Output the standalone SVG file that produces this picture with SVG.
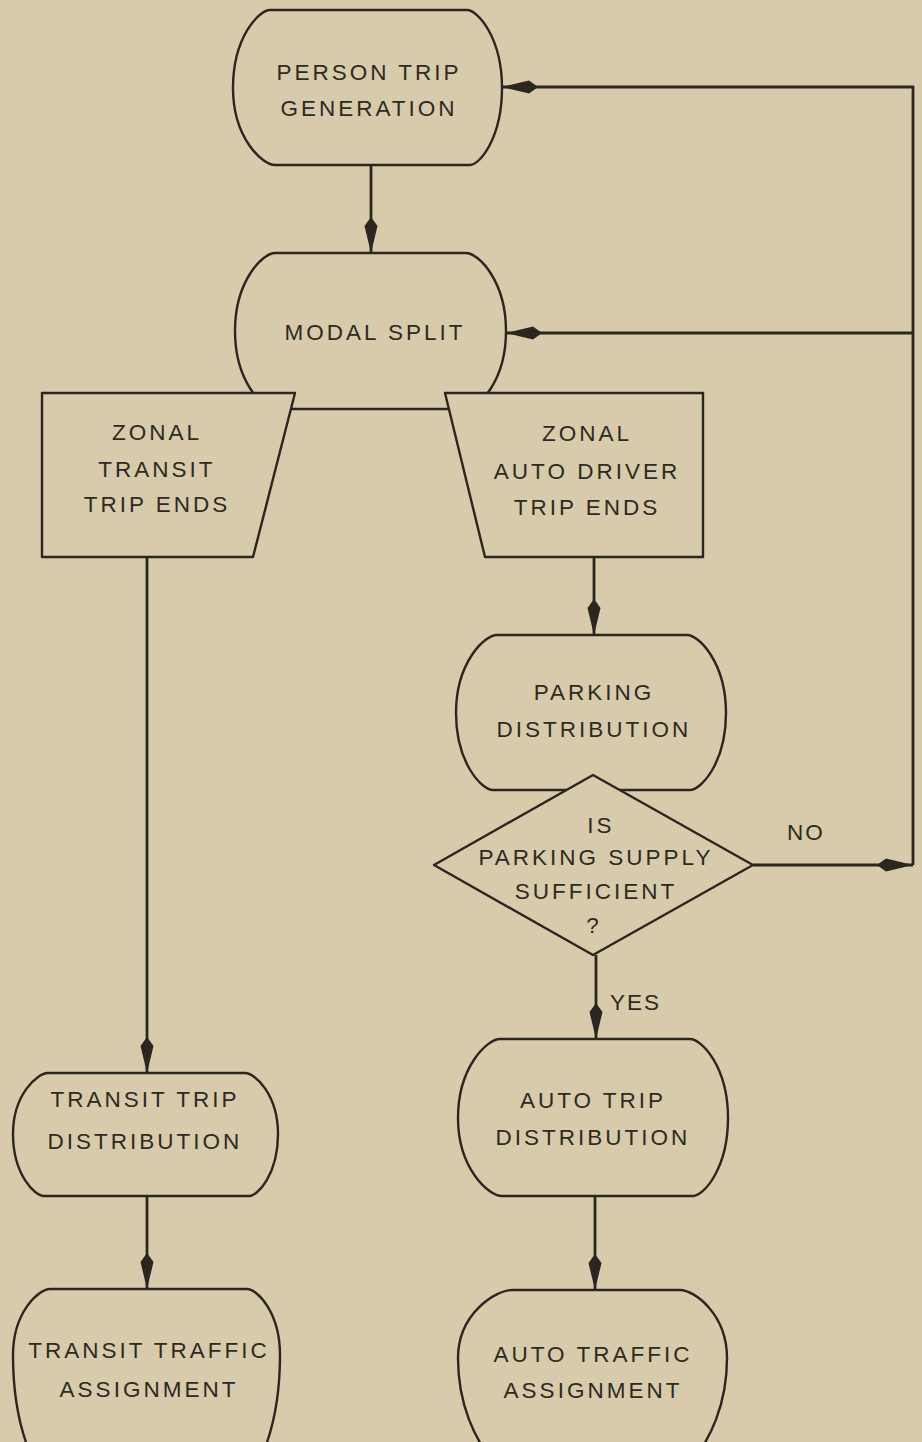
<svg xmlns="http://www.w3.org/2000/svg" width="922" height="1442" viewBox="0 0 922 1442">
<style>
.bg{fill:#d7cbab}
.shape{fill:#d7cbab;stroke:#2b2620;stroke-width:2.4;stroke-linejoin:round}
.conn{fill:none;stroke:#2b2620;stroke-width:2.8}
.t{font-family:"Liberation Sans",Arial,sans-serif;font-size:22.5px;fill:#2e2a22;text-anchor:middle;letter-spacing:3px}
.lab{font-family:"Liberation Sans",Arial,sans-serif;font-size:22.5px;fill:#2e2a22;letter-spacing:2px}
</style>
<defs>
<marker id="ah" viewBox="0 0 36 14" refX="36" refY="7" markerWidth="36" markerHeight="14" markerUnits="userSpaceOnUse" orient="auto">
<path d="M36,7 L9,0.5 L0,7 L9,13.5 Z" fill="#2b2620"/>
</marker>
</defs>
<rect class="bg" x="0" y="0" width="922" height="1442"/>

<g id="connectors">
<path class="conn" d="M371,165 V253" marker-end="url(#ah)"/>
<path class="conn" d="M147,557 V1073" marker-end="url(#ah)"/>
<path class="conn" d="M594,557 V635" marker-end="url(#ah)"/>
<path class="conn" d="M596,955 V1039" marker-end="url(#ah)"/>
<path class="conn" d="M753,865 H913" marker-end="url(#ah)"/>
<path class="conn" d="M913,865 V87 H502" marker-end="url(#ah)"/>
<path class="conn" d="M913,333 H506" marker-end="url(#ah)"/>
<path class="conn" d="M147,1196 V1289" marker-end="url(#ah)"/>
<path class="conn" d="M595,1196 V1290" marker-end="url(#ah)"/>
<text class="lab" x="787" y="840">NO</text>
<text class="lab" x="610" y="1010">YES</text>
</g>

<g id="person-trip-generation">
<path class="shape" d="M270,10 H467 C477.5,10 502,37.3 502,88 C502,138.05 479.6,165 470,165 H275 C262.4,165 233,138.05 233,88 C233,37.3 258.9,10 270,10 Z"/>
<text class="t" x="369" y="80">PERSON TRIP</text>
<text class="t" x="369" y="116">GENERATION</text>
</g>

<g id="modal-split">
<path class="shape" d="M275,253 H466 C478,253 506,280.3 506,331 C506,381.7 478,409 466,409 H275 C263,409 235,381.7 235,331 C235,280.3 263,253 275,253 Z"/>
<text class="t" x="375" y="340">MODAL SPLIT</text>
</g>

<g id="zonal-transit-trip-ends">
<path class="shape" d="M42,393 H295 L253,557 H42 Z"/>
<text class="t" x="157" y="440">ZONAL</text>
<text class="t" x="157" y="477">TRANSIT</text>
<text class="t" x="157" y="512">TRIP ENDS</text>
</g>

<g id="zonal-auto-driver-trip-ends">
<path class="shape" d="M445,393 H703 V557 H485 Z"/>
<text class="t" x="587" y="441">ZONAL</text>
<text class="t" x="587" y="479">AUTO DRIVER</text>
<text class="t" x="587" y="515">TRIP ENDS</text>
</g>

<g id="parking-distribution">
<path class="shape" d="M497,635 H687 C698.7,635 726,662.3 726,713 C726,763 700.8,790 690,790 H493 C481.9,790 456,763 456,713 C456,662.3 484.7,635 497,635 Z"/>
<text class="t" x="594" y="700">PARKING</text>
<text class="t" x="594" y="737">DISTRIBUTION</text>
</g>

<g id="parking-supply-decision">
<path class="shape" d="M593,775 L753,865 L593,955 L434,865 Z"/>
<text class="t" x="601" y="833">IS</text>
<text class="t" x="596" y="865">PARKING SUPPLY</text>
<text class="t" x="596" y="899">SUFFICIENT</text>
<text class="t" x="594" y="933">?</text>
</g>

<g id="transit-trip-distribution">
<path class="shape" d="M48,1073 H245 C254.9,1073 278,1094.35 278,1134 C278,1174.3 257.7,1196 249,1196 H44 C34.7,1196 13,1174.3 13,1134 C13,1094.35 37.5,1073 48,1073 Z"/>
<text class="t" x="145" y="1107">TRANSIT TRIP</text>
<text class="t" x="145" y="1149">DISTRIBUTION</text>
</g>

<g id="auto-trip-distribution">
<path class="shape" d="M500,1039 H690 C701.4,1039 728,1066.65 728,1118 C728,1168.7 703.5,1196 693,1196 H502 C488.8,1196 458,1168.7 458,1118 C458,1066.65 487.4,1039 500,1039 Z"/>
<text class="t" x="593" y="1108">AUTO TRIP</text>
<text class="t" x="593" y="1145">DISTRIBUTION</text>
</g>

<g id="transit-traffic-assignment">
<path class="shape" d="M50,1289 H247 C256.9,1289 280,1312.1 280,1355 C280,1449.25 241.5,1500 225,1500 H68 C51.5,1500 13,1449.25 13,1355 C13,1312.1 38.9,1289 50,1289 Z"/>
<text class="t" x="149" y="1358">TRANSIT TRAFFIC</text>
<text class="t" x="149" y="1397">ASSIGNMENT</text>
</g>

<g id="auto-traffic-assignment">
<path class="shape" d="M512,1290 H680 C694.1,1290 727,1313.8 727,1358 C727,1450.3 660.5,1500 632,1500 H553 C524.5,1500 458,1450.3 458,1358 C458,1313.8 495.8,1290 512,1290 Z"/>
<text class="t" x="593" y="1362">AUTO TRAFFIC</text>
<text class="t" x="593" y="1398">ASSIGNMENT</text>
</g>
</svg>
